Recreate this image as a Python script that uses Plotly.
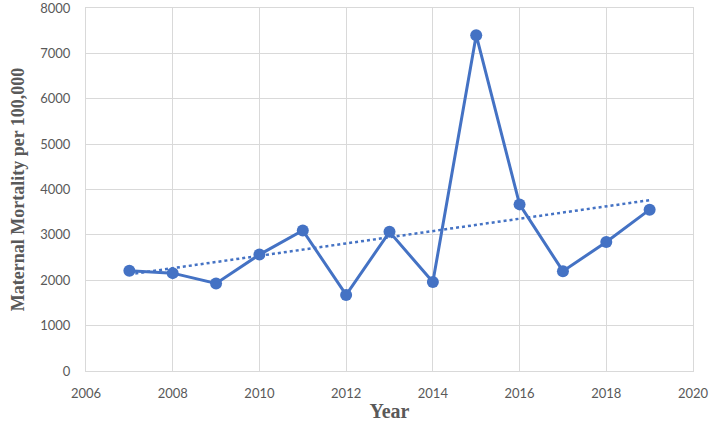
import plotly.graph_objects as go

# Data
years = [2007, 2008, 2009, 2010, 2011, 2012, 2013, 2014, 2015, 2016, 2017, 2018, 2019]
mortality = [2208, 2157, 1930, 2565, 3097, 1676, 3067, 1960, 7400, 3672, 2200, 2842, 3556]

# Linear trendline end points
trend_years = [2007, 2019]
trend_values = [2130, 3765]

BLUE = "#4472C4"
GRID = "#d9d9d9"
TICK = dict(family="Lato, Carlito, sans-serif", size=13, color="#595959")
SERIF = "Liberation Serif, Times New Roman, serif"

fig = go.Figure()
fig.add_trace(go.Scatter(
    x=trend_years, y=trend_values, mode="lines",
    line=dict(color=BLUE, width=2.5, dash="dot"),
    showlegend=False, hoverinfo="skip",
))
fig.add_trace(go.Scatter(
    x=years, y=mortality, mode="lines+markers",
    line=dict(color=BLUE, width=3),
    marker=dict(color=BLUE, size=12),
    showlegend=False, cliponaxis=False,
))

fig.update_layout(
    width=712, height=422,
    margin=dict(l=86, r=19, t=8, b=51),
    plot_bgcolor="white", paper_bgcolor="white",
)
fig.update_xaxes(
    range=[2006, 2020], dtick=2, tick0=2006, automargin=False,
    showgrid=True, gridcolor=GRID, gridwidth=1,
    showline=True, linecolor=GRID, linewidth=1, mirror=True,
    zeroline=False, tickfont=TICK, ticks="", ticklabelstandoff=10,
    ticklabeloverflow="allow",
    title=dict(text="<b>Year</b>", font=dict(family=SERIF, size=20, color="#595959"), standoff=7),
)
fig.update_yaxes(
    range=[0, 8000], dtick=1000, automargin=False,
    showgrid=True, gridcolor=GRID, gridwidth=1,
    showline=True, linecolor=GRID, linewidth=1, mirror=True,
    zeroline=False, tickfont=TICK, ticks="", ticklabelstandoff=12,
    ticklabeloverflow="allow",
    title=dict(text="<b>Maternal Mortality per 100,000</b>",
               font=dict(family=SERIF, size=18, color="#595959"), standoff=10),
)

# page body has an 8px default margin; drop it so the figure sits at 0,0
fig.write_html("out.html", config={"displayModeBar": False},
               post_script="document.body.style.margin='0';")
